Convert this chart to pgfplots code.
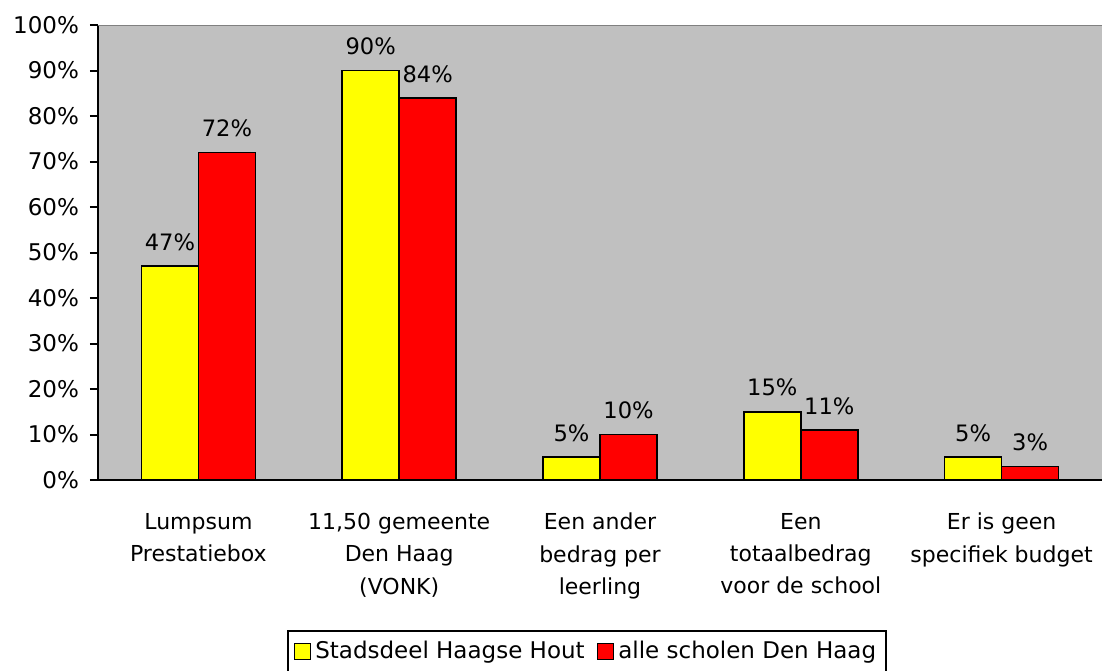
\documentclass[border=0pt]{standalone}
\usepackage{pgfplots}
\pgfplotsset{compat=1.18}
\usepackage{fontspec}
\setmainfont{DejaVu Sans}
\definecolor{plotbg}{RGB}{192,192,192}
\definecolor{byel}{RGB}{255,255,0}
\definecolor{bred}{RGB}{255,0,0}
\begin{document}
\begin{tikzpicture}
\useasboundingbox (-49pt,-95pt) rectangle (502pt,240pt);
\begin{axis}[
  at={(0,0)}, anchor=south west,
  scale only axis, width=502pt, height=227.5pt,
  xmin=-0.5, xmax=4.5, ymin=0, ymax=100,
  ybar=0pt,
  axis background/.style={fill=plotbg},
  axis x line*=bottom, axis y line*=left,
  axis line style={black, line width=1pt},
  ytick={0,10,...,100},
  yticklabel={\pgfmathprintnumber{\tick}\%},
  yticklabel style={font=\fontsize{11.5}{13}\selectfont, xshift=-2pt},
  /pgf/number format/assume math mode=true,
  ytick align=outside, major tick length=4pt,
  tick style={black, line width=1pt},
  xtick={0,1,2,3,4},
  xticklabels={{Lumpsum\\Prestatiebox},{11,50 gemeente\\Den Haag\\(VONK)},{Een ander\\bedrag per\\leerling},{Een\\totaalbedrag\\voor de school},{Er is geen\\specifiek budget}},
  x tick style={draw=none},
  xticklabel style={font=\fontsize{11}{16.2}\selectfont, align=center, text depth=0pt, yshift=-9pt},
  minor xtick={-0.5,0.5,...,4.5},
  minor x tick style={black, line width=1pt},
  minor tick length=4pt,
  xtick align=outside,
  bar width=0.284,
  nodes near coords={\pgfmathprintnumber{\pgfplotspointmeta}\%},
  nodes near coords style={font=\fontsize{11.3}{13}\selectfont, black, yshift=4pt},
  legend columns=2,
  legend style={at={(0.487,-0.33)}, anchor=north, draw=black, line width=1pt,
    font=\fontsize{11.5}{13}\selectfont, /tikz/every even column/.append style={column sep=4pt},
    inner sep=3pt},
  legend image code/.code={\draw[#1, line width=0.8pt] (0pt,-4pt) rectangle (8pt,4pt);},
]
\addplot[bar shift=-0.142, fill=byel, draw=black, line width=0.8pt] coordinates {(0,47) (1,90) (2,5) (3,15) (4,5)};
\addplot[bar shift=0.142, fill=bred, draw=black, line width=0.8pt] coordinates {(0,72) (1,84) (2,10) (3,11) (4,3)};
\legend{Stadsdeel Haagse Hout, alle scholen Den Haag}
\draw[gray, line width=1pt] (rel axis cs:0,1) -- (rel axis cs:1,1);
\end{axis}
\end{tikzpicture}
\end{document}
